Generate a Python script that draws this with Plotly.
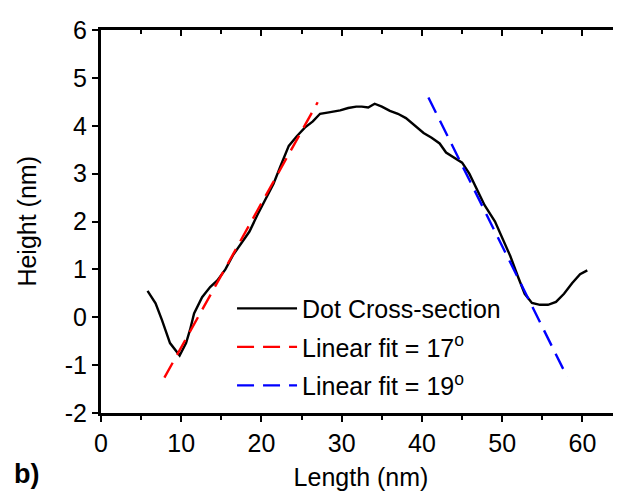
import plotly.graph_objects as go

# Dot cross-section profile
length_nm = [5.8, 6.8, 7.6, 8.6, 9.8, 10.6, 11.1, 11.6, 12.6, 13.6, 14.5, 15.5, 16.5, 17.5,
             18.5, 19.5, 20.5, 21.5, 22.4, 23.4, 24.4, 25.4, 26.4, 27.3, 28.4, 29.8, 30.8,
             31.8, 32.5, 33.3, 34.1, 35.0, 36.0, 37.0, 38.0, 39.2, 40.2, 41.2, 42.2, 43.0,
             44.0, 45.0, 45.9, 46.8, 47.8, 49.1, 50.0, 51.0, 52.0, 52.8, 53.7, 54.7, 55.7,
             56.7, 57.7, 58.7, 59.7, 60.6]
height_nm = [0.55, 0.29, -0.06, -0.54, -0.80, -0.54, -0.26, 0.08, 0.42, 0.63, 0.77, 1.00,
             1.31, 1.55, 1.79, 2.14, 2.48, 2.79, 3.17, 3.58, 3.78, 3.96, 4.09, 4.25, 4.28,
             4.32, 4.37, 4.40, 4.40, 4.38, 4.46, 4.40, 4.31, 4.25, 4.16, 4.00, 3.85, 3.75,
             3.63, 3.44, 3.34, 3.23, 3.00, 2.69, 2.34, 2.00, 1.66, 1.28, 0.83, 0.49, 0.30,
             0.26, 0.26, 0.32, 0.49, 0.71, 0.90, 0.98]

# Linear fits (end points)
fit17_x = [7.9, 27.0]
fit17_y = [-1.26, 4.49]
fit19_x = [40.8, 58.1]
fit19_y = [4.59, -1.25]

x_ticks = [0, 10, 20, 30, 40, 50, 60]
x_minor = [5, 15, 25, 35, 45, 55]
y_ticks = [-2, -1, 0, 1, 2, 3, 4, 5, 6]
y_tick_labels = ["-2", "-1", "0", "1", "2", "3", "4", "5", "6"]

FONT = "Arial, Liberation Sans, sans-serif"
FS = 25

fig = go.Figure()
fig.add_trace(go.Scatter(x=length_nm, y=height_nm, mode="lines",
                         line=dict(color="black", width=2.4),
                         name="Dot Cross-section", legendgroup="a"))
fig.add_trace(go.Scatter(x=fit17_x, y=fit17_y, mode="lines",
                         line=dict(color="#ff0000", width=2.4, dash="17px,9px"),
                         name="Linear fit = 17<sup>o</sup>", legendgroup="b"))
fig.add_trace(go.Scatter(x=fit19_x, y=fit19_y, mode="lines",
                         line=dict(color="#0000ff", width=2.4, dash="17px,9px"),
                         name="Linear fit = 19<sup>o</sup>", legendgroup="c"))

fig.update_layout(
    width=621, height=497,
    margin=dict(l=93, r=8, t=22, b=92),
    paper_bgcolor="white", plot_bgcolor="white",
    font=dict(family=FONT, size=FS, color="black"),
    showlegend=True,
    legend=dict(x=0.252, y=0.172, xanchor="left", yanchor="middle",
                bgcolor="rgba(0,0,0,0)", font=dict(size=FS), itemwidth=60,
                tracegroupgap=3),
    xaxis=dict(range=[0, 64.8], tickvals=x_ticks,
               ticks="outside", ticklen=6, tickwidth=2, tickcolor="black",
               minor=dict(tickvals=x_minor, ticks="outside", ticklen=4,
                          tickwidth=2, tickcolor="black"),
               showline=True, linewidth=3, linecolor="black", showgrid=False,
               zeroline=False, tickfont=dict(size=FS),
               title=dict(text="Length (nm)", font=dict(size=FS), standoff=13)),
    yaxis=dict(range=[-2, 6], tickvals=y_ticks, ticktext=y_tick_labels,
               ticks="outside", ticklen=6, tickwidth=2, tickcolor="black",
               showline=True, linewidth=3, linecolor="black", showgrid=False,
               zeroline=False, tickfont=dict(size=FS)),
    xaxis2=dict(overlaying="x", side="top", matches="x", range=[0, 64.8],
                tickvals=x_ticks, ticks="inside", ticklen=6,
                tickwidth=2, tickcolor="black", showticklabels=False,
                minor=dict(tickvals=x_minor, ticks="inside", ticklen=4,
                           tickwidth=2, tickcolor="black"),
                showline=True, linewidth=3, linecolor="black", showgrid=False,
                zeroline=False),
    yaxis2=dict(overlaying="y", side="right", matches="y", range=[-2, 6],
                tickvals=y_ticks, ticks="inside", ticklen=7,
                tickwidth=2, tickcolor="black", showticklabels=False,
                showline=False, showgrid=False, zeroline=False),
    annotations=[
        dict(text="Height (nm)", xref="paper", yref="paper", x=-0.144, y=0.5,
             xanchor="center", yanchor="middle", textangle=-90, showarrow=False,
             font=dict(size=FS, family=FONT, color="black")),
        dict(text="<b>b)</b>", xref="paper", yref="paper", x=-0.171, y=-0.159,
             xanchor="left", yanchor="middle", showarrow=False,
             font=dict(size=27, family=FONT, color="black")),
    ],
)

# invisible helper trace so that the mirrored axes are drawn
fig.add_trace(go.Scatter(x=[None], y=[None], xaxis="x2", yaxis="y2",
                         showlegend=False, hoverinfo="skip"))

fig.write_html("out.html")
